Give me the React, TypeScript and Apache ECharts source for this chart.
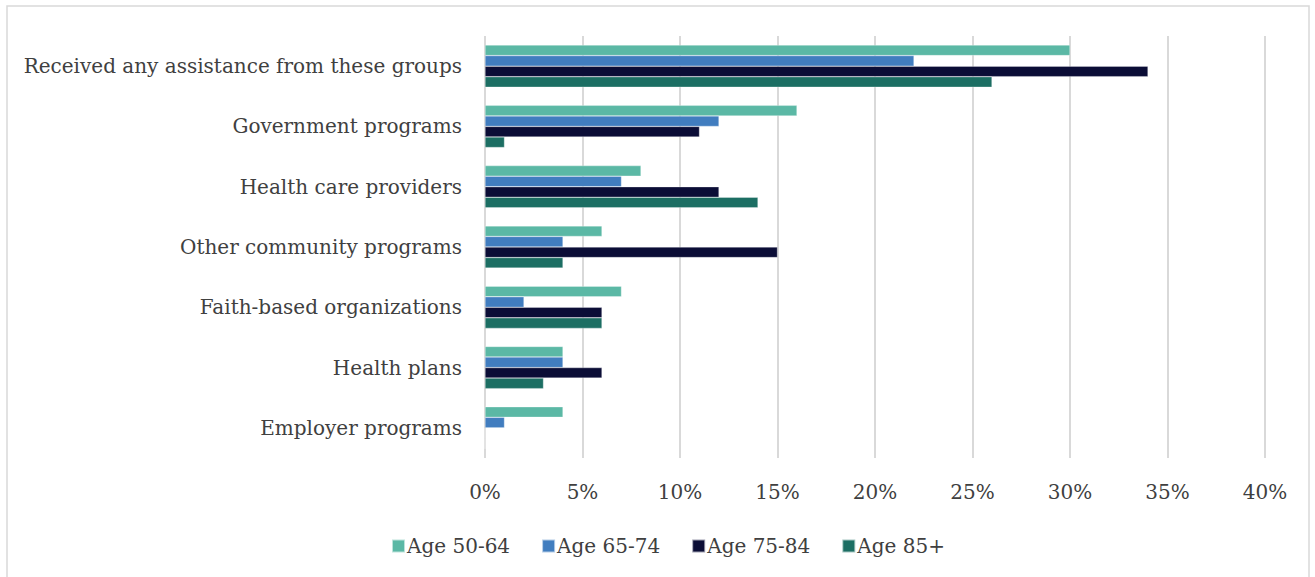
import React, { useEffect, useRef } from "react";
import * as echarts from "echarts";

const categories = [
  "Received any assistance from these groups",
  "Government programs",
  "Health care providers",
  "Other community programs",
  "Faith-based organizations",
  "Health plans",
  "Employer programs",
];
const seriesNames = ["Age 50-64", "Age 65-74", "Age 75-84", "Age 85+"];
const age5064 = [30, 16, 8, 6, 7, 4, 4];
const age6574 = [22, 12, 7, 4, 2, 4, 1];
const age7584 = [34, 11, 12, 15, 6, 6, 0];
const age85 = [26, 1, 14, 4, 6, 3, 0];
const colors = ["#5bb8a5", "#417dbf", "#0b0d36", "#1c6e63"];

const FONT = "DejaVu Serif";

export default function App() {
  const ref = useRef<HTMLDivElement>(null);
  useEffect(() => {
    const chart = echarts.init(ref.current!, null, { renderer: "svg" });
    const data = [age5064, age6574, age7584, age85];
    chart.setOption({
      animation: false,
      textStyle: { fontFamily: FONT },
      graphic: [
        {
          type: "rect",
          shape: { x: 7, y: 6, width: 1302, height: 580 },
          style: { fill: "none", stroke: "#d9d9d9", lineWidth: 1.5 },
          silent: true,
        },
      ],
      legend: {
        data: seriesNames,
        left: 386,
        top: 531,
        itemWidth: 13,
        itemHeight: 13,
        itemGap: 31,
        icon: "rect",
        textStyle: { fontFamily: FONT, fontSize: 20, color: "#404040", padding: [0, 0, 0, -3] },
      },
      grid: { left: 485, right: 50, top: 36, bottom: 119, containLabel: false },
      xAxis: {
        type: "value",
        min: 0,
        max: 40,
        interval: 5,
        axisLabel: {
          formatter: (v: number) => v + "%",
          fontFamily: FONT,
          fontSize: 20,
          color: "#404040",
          margin: 24,
        },
        axisLine: { show: false },
        axisTick: { show: false },
        splitLine: { show: true, lineStyle: { color: "#d9d9d9", width: 2 } },
      },
      yAxis: {
        type: "category",
        data: categories,
        inverse: true,
        axisLabel: { fontFamily: FONT, fontSize: 20, color: "#404040", margin: 23 },
        axisLine: { show: false },
        axisTick: { show: false },
      },
      series: seriesNames.map((name, i) => ({
        name,
        type: "bar",
        data: data[i],
        barGap: "0%",
        barCategoryGap: "30%",
        itemStyle: { color: colors[i], borderColor: "rgba(255,255,255,0.6)", borderWidth: 0.5 },
      })),
    });
    return () => chart.dispose();
  }, []);
  return (
    <div
      ref={ref}
      style={{ position: "absolute", left: 0, top: 0, width: 1315, height: 577, background: "#fff" }}
    />
  );
}
